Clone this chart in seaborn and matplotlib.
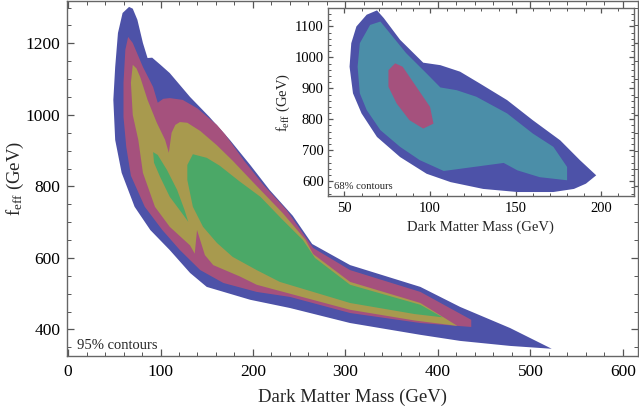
import matplotlib
matplotlib.use("Agg")
import matplotlib.pyplot as plt
import seaborn as sns
from matplotlib.ticker import MultipleLocator

# 95% contours (main panel), vertices in (mass GeV, f_eff GeV)
blue_95 = [(66, 1302), (70, 1297), (75, 1266), (81, 1201), (86, 1159), (91, 1160),
           (100, 1140), (110, 1117), (132, 1050), (153, 994), (175, 930), (197, 860),
           (218, 790), (243, 718), (264, 639), (305, 580), (381, 519), (424, 463),
           (478, 404), (523, 346), (478, 354), (424, 368), (381, 385), (305, 418),
           (240, 460), (197, 483), (150, 519), (132, 558), (110, 622), (89, 678),
           (72, 743), (58, 838), (51, 930), (49, 1042), (51, 1134), (54, 1229), (59, 1285)]
magenta_95 = [(65, 1218), (70, 1201), (81, 1134), (92, 1078), (97, 1034), (103, 1045),
              (110, 1047), (124, 1042), (140, 1018), (161, 972), (170, 945), (190, 873),
              (211, 805), (236, 735), (265, 628), (305, 566), (381, 505), (436, 427),
              (436, 407), (381, 418), (305, 446), (240, 491), (204, 505), (168, 530),
              (143, 566), (121, 622), (102, 678), (83, 743), (68, 830), (63, 910),
              (60, 994), (60, 1090), (62, 1182)]
yellow_95 = [(70, 1140), (74, 1130), (78, 1106), (86, 1042), (96, 978), (105, 930),
             (109, 894), (112, 950), (116, 972), (121, 980), (129, 978), (143, 955),
             (161, 915), (178, 872), (200, 812), (232, 726), (257, 650), (265, 611),
             (305, 533), (381, 474), (421, 410), (375, 425), (305, 455), (240, 500),
             (204, 525), (186, 548), (157, 580), (148, 608), (139.5, 678), (137, 612),
             (132, 635), (110, 687), (94, 743), (81, 838), (76, 930), (70, 1000),
             (68, 1090)]
green_95_left = [(92, 896), (97, 888), (107, 846), (118, 790), (126, 734), (130, 701),
                 (123, 726), (110, 771), (99.5, 827), (93, 866)]
green_95_main = [(135, 890), (150, 880), (164, 858), (185, 815), (208, 771), (230, 712),
                 (254, 650), (267, 600), (305, 525), (381, 469), (405, 434), (375, 443),
                 (305, 474), (229, 533), (204, 566), (178, 603), (161, 642), (146, 687),
                 (135, 743), (129, 818), (129, 860)]

# 68% contours (inset)
blue_68 = [(69, 1152), (63, 1138), (57, 1100), (54, 1046), (53, 970), (55, 884),
           (60, 819), (69, 743), (82.5, 678), (98, 624), (112, 597), (131, 575),
           (151, 565), (172, 565), (184, 575), (191, 592), (197, 619), (187.5, 668),
           (176, 732), (160, 797), (145, 862), (129, 916), (117.5, 954), (106, 975),
           (96, 983), (82.5, 1057), (73, 1127)]
teal_68 = [(71, 1116), (65, 1105), (59, 1046), (57.7, 970), (59, 884), (63, 830),
           (71, 765), (82.5, 711), (94, 668), (108, 633), (143, 659), (151, 635),
           (164, 613), (180, 603), (180, 646), (172, 711), (160, 754), (145, 819),
           (127, 873), (115.6, 894), (106, 903), (98, 948), (86, 1014), (76.6, 1078)]
magenta_68 = [(79.6, 981), (75.7, 959), (75.7, 905), (80.5, 851), (88, 797), (96, 770),
              (102, 786), (100, 840), (92, 905), (84, 970)]

c_blue = "#4D52A8"
c_magenta = "#A5517D"
c_yellow = "#A89A4E"
c_green = "#4BA867"
c_teal = "#4B8EA8"

sns.set_theme(style="ticks")
plt.rcParams["font.family"] = ["Liberation Serif", "DejaVu Serif"]
plt.rcParams["mathtext.fontset"] = "custom"
plt.rcParams["mathtext.rm"] = "Liberation Serif"
plt.rcParams["mathtext.it"] = "Liberation Serif:italic"

fig = plt.figure(figsize=(6.39, 4.11), dpi=100)
ax = fig.add_axes([0.105, 0.134, 0.893, 0.864])


def fill_poly(a, pts, color):
    xs = [p[0] for p in pts]
    ys = [p[1] for p in pts]
    a.fill(xs, ys, color=color, lw=0, zorder=2)


fill_poly(ax, blue_95, c_blue)
fill_poly(ax, magenta_95, c_magenta)
fill_poly(ax, yellow_95, c_yellow)
fill_poly(ax, green_95_left, c_green)
fill_poly(ax, green_95_main, c_green)


def style_axes(a, fs, pad):
    a.tick_params(which="both", direction="in", top=True, right=True,
                  colors="#555555", labelcolor="black", labelsize=fs, pad=pad)
    a.tick_params(which="major", length=5, width=0.9)
    a.tick_params(which="minor", length=2.8, width=0.7)
    for s in a.spines.values():
        s.set_color("#666666")
        s.set_linewidth(1.0)


ax.set_xlim(-1, 616)
ax.set_ylim(326, 1319)
ax.xaxis.set_major_locator(MultipleLocator(100))
ax.xaxis.set_minor_locator(MultipleLocator(20))
ax.yaxis.set_major_locator(MultipleLocator(200))
ax.yaxis.set_minor_locator(MultipleLocator(50))
style_axes(ax, 12.5, 6)
ax.tick_params(axis="y", pad=5)
ax.set_xlabel("Dark Matter Mass (GeV)", fontsize=13.5, labelpad=6)
ax.set_ylabel(r"$\mathrm{f_{eff}}$ (GeV)", fontsize=13.5)
ax.yaxis.set_label_coords(-0.072, 0.5)
ax.text(0.018, 0.012, "95% contours", transform=ax.transAxes, fontsize=10.5,
        ha="left", va="bottom")

# inset with 68% contours
axi = fig.add_axes([0.513, 0.523, 0.479, 0.457])
axi.set_facecolor("white")
fill_poly(axi, blue_68, c_blue)
fill_poly(axi, teal_68, c_teal)
fill_poly(axi, magenta_68, c_magenta)
axi.set_xlim(40.3, 219)
axi.set_ylim(552, 1159)
axi.xaxis.set_major_locator(MultipleLocator(50))
axi.xaxis.set_minor_locator(MultipleLocator(10))
axi.yaxis.set_major_locator(MultipleLocator(100))
axi.yaxis.set_minor_locator(MultipleLocator(20))
style_axes(axi, 10.5, 4)
axi.tick_params(axis="y", pad=3)
axi.tick_params(which="major", length=3.5)
axi.tick_params(which="minor", length=2)
axi.set_xlabel("Dark Matter Mass (GeV)", fontsize=10.5, labelpad=4)
axi.set_ylabel(r"$\mathrm{f_{eff}}$ (GeV)", fontsize=10.5)
axi.yaxis.set_label_coords(-0.118, 0.5)
axi.text(0.02, 0.025, "68% contours", transform=axi.transAxes, fontsize=7.7,
         ha="left", va="bottom")

fig.savefig("out.png", dpi=100)
